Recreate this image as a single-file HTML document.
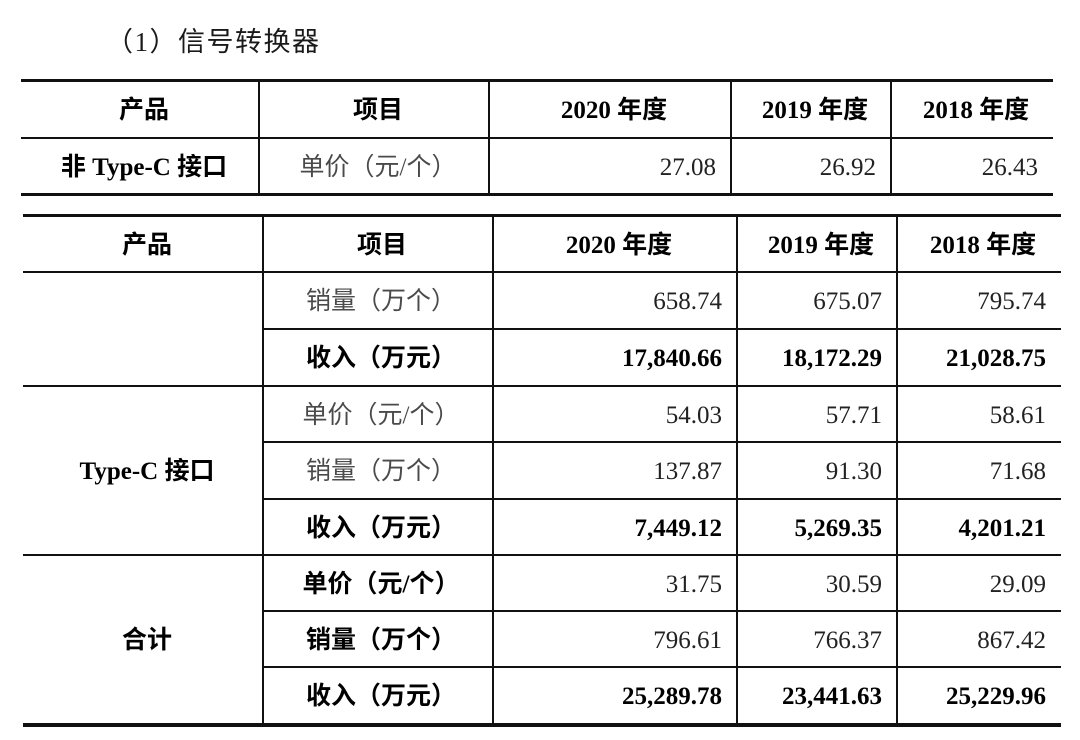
<!DOCTYPE html>
<html>
<head>
<meta charset="utf-8">
<style>
  html, body { margin:0; padding:0; background:#fff; }
  body { width:1080px; height:740px; position:relative; overflow:hidden;
         font-family:"Liberation Serif","Noto Sans CJK SC",serif; }
  .ln { position:absolute; background:#111; }
  .c { position:absolute; display:flex; align-items:center; justify-content:center;
       font-size:25px; line-height:28px; white-space:nowrap; box-sizing:border-box;
       padding-left:8px; padding-top:3px; }
  .r { justify-content:flex-end; padding-left:0; padding-right:15px; }
  .b { font-weight:bold; color:#000; }
  .g { color:#4a4a4a; font-weight:normal; }
  .n { color:#222; }
  .title { position:absolute; left:106px; top:27px; font-size:27px; line-height:30px;
           letter-spacing:1.5px; color:#1a1a1a; white-space:nowrap;
           font-family:"Liberation Serif","Noto Sans CJK SC",serif; }
</style>
</head>
<body>

<div class="title">（1）信号转换器</div>

<!-- ===== Table 1 lines ===== -->
<div class="ln" style="left:21px;top:79px;width:1032px;height:3px;"></div>
<div class="ln" style="left:21px;top:137px;width:1032px;height:2px;"></div>
<div class="ln" style="left:21px;top:193px;width:1032px;height:3px;"></div>
<div class="ln" style="left:258px;top:80px;width:2px;height:115px;"></div>
<div class="ln" style="left:488px;top:80px;width:2px;height:115px;"></div>
<div class="ln" style="left:730px;top:80px;width:2px;height:115px;"></div>
<div class="ln" style="left:890px;top:80px;width:2px;height:115px;"></div>

<!-- Table 1 header -->
<div class="c b" style="left:21px;top:82px;width:238px;height:55px;">产品</div>
<div class="c b" style="left:259px;top:82px;width:230px;height:55px;">项目</div>
<div class="c b" style="left:489px;top:82px;width:242px;height:55px;">2020 年度</div>
<div class="c b" style="left:731px;top:82px;width:160px;height:55px;">2019 年度</div>
<div class="c b" style="left:891px;top:82px;width:162px;height:55px;">2018 年度</div>
<!-- Table 1 row -->
<div class="c b" style="left:21px;top:139px;width:238px;height:54px;">非 Type-C 接口</div>
<div class="c g" style="left:259px;top:139px;width:230px;height:54px;">单价（元/个）</div>
<div class="c r n" style="left:489px;top:139px;width:242px;height:54px;">27.08</div>
<div class="c r n" style="left:731px;top:139px;width:160px;height:54px;">26.92</div>
<div class="c r n" style="left:891px;top:139px;width:162px;height:54px;">26.43</div>

<!-- ===== Table 2 lines ===== -->
<div class="ln" style="left:23px;top:214px;width:1038px;height:3px;"></div>
<div class="ln" style="left:23px;top:271px;width:1038px;height:2px;"></div>
<div class="ln" style="left:263px;top:328px;width:798px;height:2px;"></div>
<div class="ln" style="left:23px;top:385px;width:1038px;height:2px;"></div>
<div class="ln" style="left:263px;top:441px;width:798px;height:2px;"></div>
<div class="ln" style="left:263px;top:498px;width:798px;height:2px;"></div>
<div class="ln" style="left:23px;top:554px;width:1038px;height:2px;"></div>
<div class="ln" style="left:263px;top:610px;width:798px;height:2px;"></div>
<div class="ln" style="left:263px;top:666px;width:798px;height:2px;"></div>
<div class="ln" style="left:23px;top:723px;width:1038px;height:4px;"></div>
<div class="ln" style="left:262px;top:215px;width:2px;height:510px;"></div>
<div class="ln" style="left:492px;top:215px;width:2px;height:510px;"></div>
<div class="ln" style="left:736px;top:215px;width:2px;height:510px;"></div>
<div class="ln" style="left:896px;top:215px;width:2px;height:510px;"></div>

<!-- Table 2 header -->
<div class="c b" style="left:23px;top:217px;width:240px;height:54px;">产品</div>
<div class="c b" style="left:263px;top:217px;width:230px;height:54px;">项目</div>
<div class="c b" style="left:493px;top:217px;width:244px;height:54px;">2020 年度</div>
<div class="c b" style="left:737px;top:217px;width:160px;height:54px;">2019 年度</div>
<div class="c b" style="left:897px;top:217px;width:164px;height:54px;">2018 年度</div>

<!-- Product labels -->
<div class="c b" style="left:23px;top:387px;width:240px;height:167px;">Type-C 接口</div>
<div class="c b" style="left:23px;top:556px;width:240px;height:167px;">合计</div>

<!-- Row 1 -->
<div class="c g" style="left:263px;top:273px;width:230px;height:55px;padding-left:6px;">销量（万个）</div>
<div class="c r n" style="left:493px;top:273px;width:244px;height:55px;">658.74</div>
<div class="c r n" style="left:737px;top:273px;width:160px;height:55px;">675.07</div>
<div class="c r n" style="left:897px;top:273px;width:164px;height:55px;">795.74</div>
<!-- Row 2 -->
<div class="c b" style="left:263px;top:330px;width:230px;height:55px;padding-left:6px;">收入（万元）</div>
<div class="c r b" style="left:493px;top:330px;width:244px;height:55px;">17,840.66</div>
<div class="c r b" style="left:737px;top:330px;width:160px;height:55px;">18,172.29</div>
<div class="c r b" style="left:897px;top:330px;width:164px;height:55px;">21,028.75</div>
<!-- Row 3 -->
<div class="c g" style="left:263px;top:387px;width:230px;height:54px;padding-left:6px;">单价（元/个）</div>
<div class="c r n" style="left:493px;top:387px;width:244px;height:54px;">54.03</div>
<div class="c r n" style="left:737px;top:387px;width:160px;height:54px;">57.71</div>
<div class="c r n" style="left:897px;top:387px;width:164px;height:54px;">58.61</div>
<!-- Row 4 -->
<div class="c g" style="left:263px;top:443px;width:230px;height:55px;padding-left:6px;">销量（万个）</div>
<div class="c r n" style="left:493px;top:443px;width:244px;height:55px;">137.87</div>
<div class="c r n" style="left:737px;top:443px;width:160px;height:55px;">91.30</div>
<div class="c r n" style="left:897px;top:443px;width:164px;height:55px;">71.68</div>
<!-- Row 5 -->
<div class="c b" style="left:263px;top:500px;width:230px;height:54px;padding-left:6px;">收入（万元）</div>
<div class="c r b" style="left:493px;top:500px;width:244px;height:54px;">7,449.12</div>
<div class="c r b" style="left:737px;top:500px;width:160px;height:54px;">5,269.35</div>
<div class="c r b" style="left:897px;top:500px;width:164px;height:54px;">4,201.21</div>
<!-- Row 6 -->
<div class="c b" style="left:263px;top:556px;width:230px;height:54px;padding-left:6px;">单价（元/个）</div>
<div class="c r n" style="left:493px;top:556px;width:244px;height:54px;">31.75</div>
<div class="c r n" style="left:737px;top:556px;width:160px;height:54px;">30.59</div>
<div class="c r n" style="left:897px;top:556px;width:164px;height:54px;">29.09</div>
<!-- Row 7 -->
<div class="c b" style="left:263px;top:612px;width:230px;height:54px;padding-left:6px;">销量（万个）</div>
<div class="c r n" style="left:493px;top:612px;width:244px;height:54px;">796.61</div>
<div class="c r n" style="left:737px;top:612px;width:160px;height:54px;">766.37</div>
<div class="c r n" style="left:897px;top:612px;width:164px;height:54px;">867.42</div>
<!-- Row 8 -->
<div class="c b" style="left:263px;top:668px;width:230px;height:55px;padding-left:6px;">收入（万元）</div>
<div class="c r b" style="left:493px;top:668px;width:244px;height:55px;">25,289.78</div>
<div class="c r b" style="left:737px;top:668px;width:160px;height:55px;">23,441.63</div>
<div class="c r b" style="left:897px;top:668px;width:164px;height:55px;">25,229.96</div>

</body>
</html>
